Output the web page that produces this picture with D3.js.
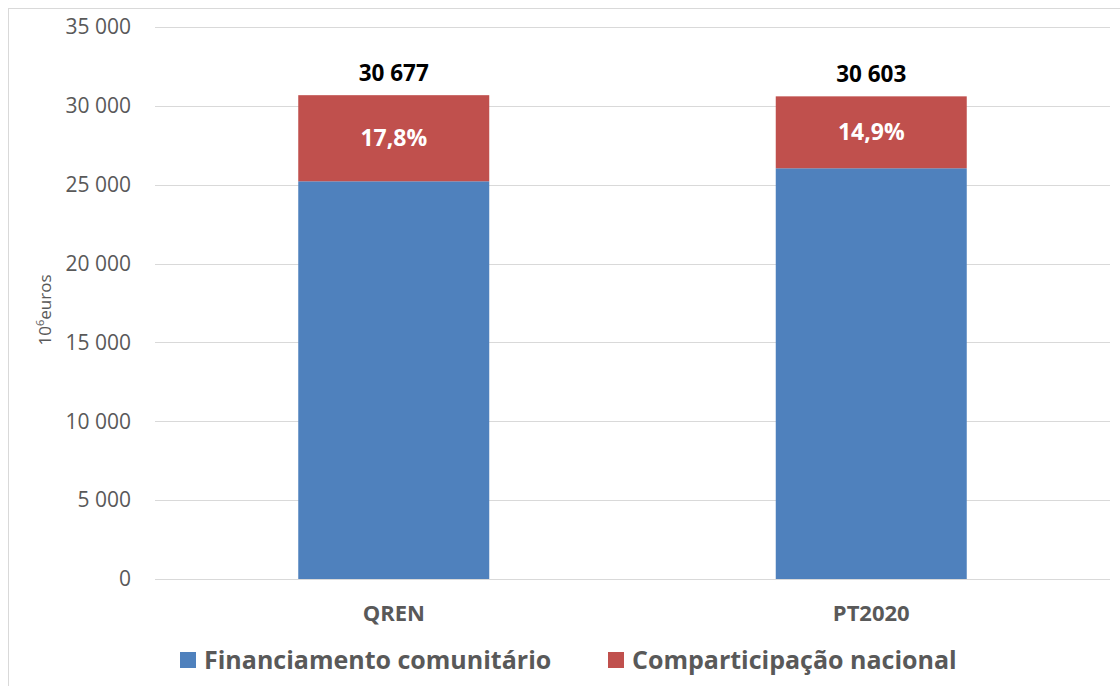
<!DOCTYPE html>
<html>
<head>
  <meta charset="utf-8">
  <title>QREN vs PT2020</title>
  <script src="https://cdn.jsdelivr.net/npm/d3@7"></script>
  <style>
    body { margin: 0; background: #fff; }
    text { font-family: "Open Sans", sans-serif; }
  </style>
</head>
<body>
<script>
// data
var categories = ["QREN", "PT2020"];
var comunitario = [25217, 26043];
var nacional = [5460, 4560];
var totalLabels = ["30 677", "30 603"];
var pctLabels = ["17,8%", "14,9%"];
var yTicks = [0, 5000, 10000, 15000, 20000, 25000, 30000, 35000];
var seriesNames = ["Financiamento comunitário", "Comparticipação nacional"];
var colors = ["#4F81BD", "#C0504D"];

var w = 1120, h = 686;
var svg = d3.select("body").append("svg").attr("width", w).attr("height", h);

// outer chart border (cut on right & bottom like the source)
svg.append("rect")
  .attr("x", 8.5).attr("y", 8.5)
  .attr("width", w + 10).attr("height", h + 10)
  .attr("fill", "none").attr("stroke", "#D9D9D9");

var x = d3.scaleBand().domain(categories).range([155, 1110]).paddingInner(0.6).paddingOuter(0.3);
var y = d3.scaleLinear().domain([0, 35000]).range([579, 27]);

// gridlines
svg.selectAll("line.grid").data(yTicks).enter().append("line")
  .attr("x1", 155).attr("x2", 1110)
  .attr("y1", function(d){ return Math.round(y(d)) + 0.5; })
  .attr("y2", function(d){ return Math.round(y(d)) + 0.5; })
  .attr("stroke", "#D9D9D9").attr("stroke-width", 1);

// y tick labels
var fmt = function(d){ return d3.format(",")(d).replace(/,/g, " "); };
svg.selectAll("text.ytick").data(yTicks).enter().append("text")
  .attr("x", 131).attr("y", function(d){ return y(d); })
  .attr("dy", "0.35em")
  .attr("text-anchor", "end")
  .attr("font-size", 21)
  .attr("fill", "#595959")
  .text(fmt);

// y axis title
var yt = svg.append("text")
  .attr("transform", "translate(51,310) rotate(-90)")
  .attr("text-anchor", "middle")
  .attr("font-size", 17)
  .attr("fill", "#595959");
yt.append("tspan").text("10");
yt.append("tspan").attr("dy", -7).attr("font-size", 11).text("6");
yt.append("tspan").attr("dy", 7).text("euros");

// stacked bars
var stackData = categories.map(function(c, i){ return {cat: c, a: comunitario[i], b: nacional[i]}; });
var stack = d3.stack().keys(["a", "b"])(stackData);

svg.selectAll("g.series").data(stack).enter().append("g")
  .attr("fill", function(d, i){ return colors[i]; })
  .selectAll("rect").data(function(d){ return d; }).enter().append("rect")
  .attr("x", function(d){ return x(d.data.cat); })
  .attr("width", x.bandwidth())
  .attr("y", function(d){ return y(d[1]); })
  .attr("height", function(d){ return y(d[0]) - y(d[1]); });

// percentage labels inside red segment
svg.selectAll("text.pct").data(stack[1]).enter().append("text")
  .attr("x", function(d){ return x(d.data.cat) + x.bandwidth() / 2; })
  .attr("y", function(d){ return (y(d[0]) + y(d[1])) / 2; })
  .attr("dy", "0.35em")
  .attr("text-anchor", "middle")
  .attr("font-size", 23).attr("font-weight", "bold")
  .attr("fill", "#fff")
  .text(function(d, i){ return pctLabels[i]; });

// totals on top
svg.selectAll("text.total").data(stack[1]).enter().append("text")
  .attr("x", function(d){ return x(d.data.cat) + x.bandwidth() / 2; })
  .attr("y", function(d){ return y(d[1]) - 14; })
  .attr("text-anchor", "middle")
  .attr("font-size", 22.5).attr("font-weight", "bold")
  .attr("fill", "#000")
  .text(function(d, i){ return totalLabels[i]; });

// category labels
svg.selectAll("text.cat").data(categories).enter().append("text")
  .attr("x", function(d){ return x(d) + x.bandwidth() / 2; })
  .attr("y", 621)
  .attr("text-anchor", "middle")
  .attr("font-size", 22).attr("font-weight", "bold")
  .attr("fill", "#595959")
  .text(function(d){ return d; });

// legend
var legX = [180, 608];
var leg = svg.selectAll("g.leg").data(seriesNames).enter().append("g")
  .attr("transform", function(d, i){ return "translate(" + legX[i] + ",652)"; });
leg.append("rect").attr("width", 16).attr("height", 16)
  .attr("fill", function(d, i){ return colors[i]; });
leg.append("text")
  .attr("x", 24).attr("y", 8).attr("dy", "0.35em")
  .attr("font-size", 25).attr("font-weight", "bold")
  .attr("fill", "#595959")
  .text(function(d){ return d; });
</script>
</body>
</html>
